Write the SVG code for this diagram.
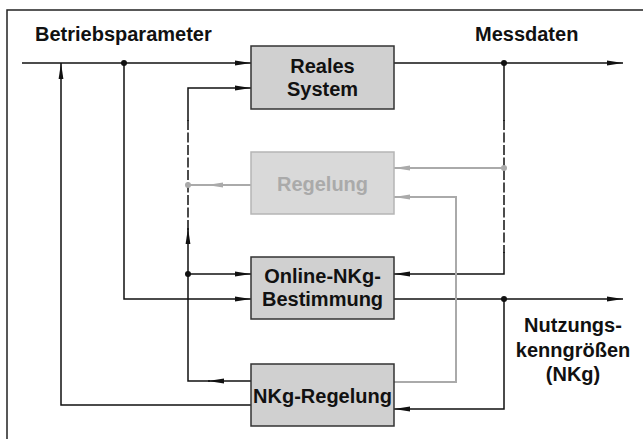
<svg xmlns="http://www.w3.org/2000/svg" width="643" height="439" viewBox="0 0 643 439">
<defs>
<marker id="a" markerWidth="16" markerHeight="6" refX="16" refY="3" orient="auto" markerUnits="userSpaceOnUse"><path d="M0,0.6 L16,3 L0,5.4 z" fill="#111"/></marker>
<marker id="g" markerWidth="16" markerHeight="6" refX="16" refY="3" orient="auto" markerUnits="userSpaceOnUse"><path d="M0,0.6 L16,3 L0,5.4 z" fill="#aaa"/></marker>
</defs>
<style>
.ln{fill:none;stroke:#111;stroke-width:1.5}
.dash{stroke-dasharray:10 2.5}
.gl{fill:none;stroke:#aaa;stroke-width:2}
.box{fill:#d0d0d0;stroke:#333;stroke-width:1.5}
.gbox{fill:#d9d9d9;stroke:#b5b5b5;stroke-width:1.5}
text{font-family:"Liberation Sans",Arial,sans-serif;font-weight:bold;font-size:20px;fill:#111}
.c{text-anchor:middle}
.gt{fill:#aaa}
.dot{fill:#111}
.gdot{fill:#aaa}
</style>
<rect x="7" y="10" width="650" height="450" fill="#fff" stroke="#222" stroke-width="1.5"/>
<g id="labels">
<text x="35" y="41">Betriebsparameter</text>
<text x="475" y="41">Messdaten</text>
<text class="c" x="573" y="332">Nutzungs-</text>
<text class="c" x="573" y="357">kenngrößen</text>
<text class="c" x="573" y="381">(NKg)</text>
</g>
<g id="connectors">
<path class="ln" d="M22,63 H251" marker-end="url(#a)"/>
<path class="ln" d="M394,63 H623" marker-end="url(#a)"/>
<path class="ln" d="M251,405 H61 V63" marker-end="url(#a)"/>
<path class="ln" d="M124,63 V299 H251" marker-end="url(#a)"/>
<path class="ln" d="M251,381 H208" marker-end="url(#a)"/>
<path class="ln" d="M210,381 H188 V228" marker-end="url(#a)"/>
<path class="ln dash" d="M188,230 V120"/>
<path class="ln" d="M188,121 V88 H251" marker-end="url(#a)"/>
<path class="ln" d="M188,274 H251" marker-end="url(#a)"/>
<path class="ln" d="M504,63 V121"/>
<path class="ln dash" d="M504,120 V253"/>
<path class="ln" d="M504,252 V274 H394" marker-end="url(#a)"/>
<path class="ln" d="M394,299 H623" marker-end="url(#a)"/>
<path class="ln" d="M504,299 V409 H394" marker-end="url(#a)"/>
<path class="gl" d="M504,168 H394" marker-end="url(#g)"/>
<path class="gl" d="M251,185 H207" marker-end="url(#g)"/>
<path class="gl" d="M210,185 H188"/>
<path class="gl" d="M394,382 H456 V197 H394" marker-end="url(#g)"/>
<circle class="dot" cx="124" cy="63" r="3"/>
<circle class="dot" cx="504" cy="63" r="3"/>
<circle class="dot" cx="188" cy="274" r="3"/>
<circle class="dot" cx="504" cy="299" r="3"/>
<circle class="gdot" cx="188" cy="185" r="3"/>
<circle class="gdot" cx="504" cy="168" r="3"/>
</g>
<g id="reales-system">
<rect class="box" x="251" y="46" width="143" height="63"/>
<text class="c" x="322.5" y="73">Reales</text>
<text class="c" x="322.5" y="96">System</text>
</g>
<g id="regelung">
<rect class="gbox" x="251" y="152" width="143" height="62"/>
<text class="c gt" x="322.5" y="191">Regelung</text>
</g>
<g id="online-nkg">
<rect class="box" x="251" y="257" width="143" height="62"/>
<text class="c" x="322.5" y="283">Online-NKg-</text>
<text class="c" x="322.5" y="306">Bestimmung</text>
</g>
<g id="nkg-regelung">
<rect class="box" x="251" y="364" width="143" height="62"/>
<text class="c" x="322.5" y="403">NKg-Regelung</text>
</g>
</svg>
